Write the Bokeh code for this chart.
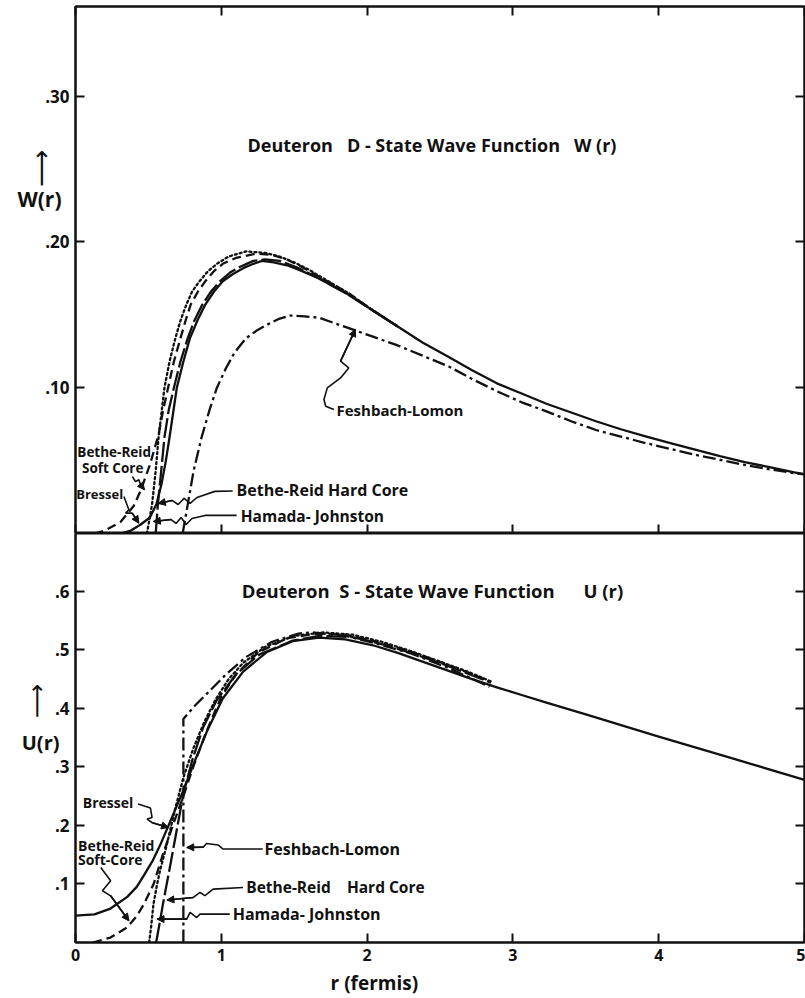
from bokeh.plotting import figure
from bokeh.models import Range1d, LinearAxis, FixedTicker, Label, Arrow, NormalHead
from bokeh.layouts import column
from bokeh.embed import file_html
from bokeh.resources import INLINE

# ---------------- data ----------------
x_ticks = [0, 1, 2, 3, 4, 5]
x_tick_labels = ["0", "1", "2", "3", "4", "5"]
w_ticks = [0.10, 0.20, 0.30]
w_tick_labels = [".10", ".20", ".30"]
u_ticks = [0.1, 0.2, 0.3, 0.4, 0.5, 0.6]
u_tick_labels = [".1", ".2", ".3", ".4", ".5", ".6"]

# D-state wave function W(r)
w_bressel_r = [0.31, 0.38, 0.445, 0.51, 0.555, 0.59, 0.62, 0.645, 0.67, 0.695, 0.74, 0.785, 0.84,
               0.89, 0.95, 1.01, 1.08, 1.15, 1.22, 1.28, 1.36, 1.45, 1.53, 1.67, 1.87, 2.04, 2.21,
               2.38, 2.56, 2.72, 2.89, 3.06, 3.23, 3.40, 3.57, 3.74, 3.91, 4.08, 4.25, 4.42, 4.59,
               4.76, 4.93, 5.0]
w_bressel = [0.0, 0.002, 0.006, 0.011, 0.02, 0.034, 0.05, 0.066, 0.083, 0.10, 0.118, 0.134, 0.147,
             0.157, 0.166, 0.173, 0.178, 0.182, 0.185, 0.187, 0.186, 0.184, 0.181, 0.175, 0.164,
             0.153, 0.142, 0.131, 0.121, 0.112, 0.103, 0.096, 0.089, 0.083, 0.077, 0.0715, 0.0666,
             0.062, 0.0575, 0.053, 0.049, 0.0455, 0.042, 0.0408]

w_softcore_r = [0.13, 0.2, 0.31, 0.40, 0.445, 0.51, 0.57, 0.60, 0.635, 0.675, 0.72, 0.755, 0.79,
                0.84, 0.89, 0.95, 1.01, 1.1, 1.24, 1.35, 1.45, 1.55, 1.67, 1.87, 2.04, 2.21]
w_softcore = [0.0, 0.002, 0.008, 0.019, 0.029, 0.047, 0.068, 0.084, 0.10, 0.118, 0.134, 0.146,
              0.157, 0.166, 0.173, 0.18, 0.185, 0.189, 0.192, 0.191, 0.188, 0.183, 0.176, 0.165,
              0.153, 0.142]

w_hamada_r = [0.49, 0.525, 0.55, 0.57, 0.59, 0.61, 0.645, 0.685, 0.72, 0.76, 0.80, 0.85, 0.91,
              0.97, 1.05, 1.17, 1.3, 1.4, 1.5, 1.6, 1.7, 1.87, 2.04, 2.21]
w_hamada = [0.0, 0.02, 0.043, 0.066, 0.083, 0.10, 0.118, 0.134, 0.146, 0.157, 0.166, 0.173, 0.18,
            0.185, 0.19, 0.1935, 0.1925, 0.19, 0.186, 0.181, 0.175, 0.165, 0.153, 0.142]

w_hardcore_r = [0.55, 0.565, 0.585, 0.61, 0.64, 0.675, 0.72, 0.77, 0.815, 0.87, 0.93, 0.99, 1.06,
                1.13, 1.22, 1.3, 1.4, 1.53, 1.67, 1.87, 2.04, 2.21]
w_hardcore = [0.0, 0.02, 0.04, 0.066, 0.085, 0.10, 0.118, 0.134, 0.146, 0.157, 0.166, 0.173, 0.179,
              0.183, 0.187, 0.188, 0.187, 0.182, 0.175, 0.164, 0.153, 0.142]

w_feshbach_r = [0.735, 0.77, 0.81, 0.865, 0.92, 0.97, 1.03, 1.09, 1.17, 1.24, 1.31, 1.39, 1.47,
                1.57, 1.67, 1.87, 2.04, 2.21, 2.38, 2.56, 2.72, 2.89, 3.06, 3.23, 3.40, 3.57,
                3.74, 3.91, 4.08, 4.25, 4.42, 4.59, 4.76, 4.93, 5.0]
w_feshbach = [0.0, 0.02, 0.043, 0.066, 0.085, 0.10, 0.113, 0.124, 0.134, 0.139, 0.143, 0.147,
              0.1495, 0.149, 0.148, 0.141, 0.135, 0.129, 0.122, 0.1146, 0.106, 0.0976, 0.09,
              0.0838, 0.077, 0.071, 0.0665, 0.062, 0.058, 0.054, 0.0505, 0.047, 0.044, 0.0414,
              0.0405]

# S-state wave function U(r)
u_bressel_r = [0.0, 0.13, 0.24, 0.355, 0.42, 0.47, 0.53, 0.58, 0.65, 0.73, 0.81, 0.90, 1.01, 1.15,
               1.31, 1.49, 1.67, 1.85, 2.04, 2.21, 2.38, 2.55, 2.72, 2.89, 3.06, 3.23, 3.5, 4.0,
               4.5, 5.0]
u_bressel = [0.046, 0.048, 0.058, 0.078, 0.095, 0.115, 0.14, 0.166, 0.207, 0.254, 0.305, 0.36,
             0.417, 0.463, 0.496, 0.515, 0.521, 0.518, 0.508, 0.495, 0.48, 0.465, 0.45, 0.436,
             0.423, 0.41, 0.39, 0.352, 0.315, 0.278]

u_softcore_r = [0.12, 0.24, 0.355, 0.42, 0.47, 0.536, 0.6, 0.67, 0.74, 0.81, 0.9, 1.0, 1.1, 1.25,
                1.45, 1.65, 1.85, 2.05, 2.3, 2.55, 2.85]
u_softcore = [0.0, 0.0085, 0.026, 0.045, 0.066, 0.10, 0.151, 0.202, 0.25, 0.302, 0.362, 0.42,
              0.458, 0.495, 0.52, 0.528, 0.526, 0.515, 0.497, 0.475, 0.446]

u_hamada_r = [0.505, 0.52, 0.535, 0.56, 0.58, 0.627, 0.68, 0.74, 0.81, 0.88, 0.96, 1.05, 1.15,
              1.3, 1.5, 1.7, 1.9, 2.1, 2.3, 2.5, 2.7, 2.85]
u_hamada = [0.0, 0.03, 0.066, 0.10, 0.123, 0.168, 0.225, 0.282, 0.333, 0.375, 0.415, 0.45, 0.478,
            0.505, 0.524, 0.53, 0.526, 0.514, 0.498, 0.48, 0.462, 0.446]

u_hardcore_r = [0.553, 0.58, 0.60, 0.65, 0.695, 0.74, 0.80, 0.876, 0.966, 1.1, 1.26, 1.49, 1.67,
                1.9, 2.1, 2.3, 2.55, 2.85]
u_hardcore = [0.0, 0.037, 0.066, 0.132, 0.193, 0.254, 0.311, 0.368, 0.413, 0.458, 0.492, 0.516,
              0.524, 0.522, 0.51, 0.495, 0.473, 0.444]

u_feshbach_r = [0.74, 0.74, 0.82, 0.90, 1.035, 1.17, 1.35, 1.53, 1.62, 1.85, 2.05, 2.3, 2.55, 2.84]
u_feshbach = [0.0, 0.382, 0.405, 0.425, 0.459, 0.488, 0.514, 0.528, 0.53, 0.524, 0.512, 0.494,
              0.47, 0.437]

# ---------------- styling ----------------
FONT = "Open Sans"
INK = "#111111"
NB = "\u00a0"
DASH = {
    "Bressel": "solid",
    "Soft Core": "9 5",
    "Hamada-Johnston": "2 3",
    "Hard Core": "20 4",
    "Feshbach-Lomon": "13 4 3 4",
}
W_MAX = 0.3615
U_MAX = 0.699


def style_axis(ax, labels, ticks, tick_labels, size="17px", standoff=6):
    ax.ticker = FixedTicker(ticks=ticks)
    ax.major_label_overrides = {t: l for t, l in zip(ticks, tick_labels)}
    ax.major_tick_in = 9
    ax.major_tick_out = 0
    ax.minor_tick_line_color = None
    ax.axis_line_width = 2
    ax.axis_line_color = INK
    ax.major_tick_line_width = 2
    ax.major_tick_line_color = INK
    ax.major_label_text_font = FONT
    ax.major_label_text_font_style = "bold"
    if labels:
        ax.major_label_text_color = INK
        ax.major_label_text_font_size = size
        ax.major_label_standoff = standoff
    else:
        ax.major_label_text_color = None
        ax.major_label_text_font_size = "1px"
        ax.major_label_standoff = 0


def caption_axis(p, side, pos, text, size, standoff, font=FONT, style="bold",
                 orientation="horizontal"):
    """An axis that carries only a caption text (no line, no tick marks)."""
    ax = LinearAxis(ticker=FixedTicker(ticks=[pos]), major_label_overrides={pos: text})
    ax.axis_line_color = None
    ax.major_tick_line_color = None
    ax.minor_tick_line_color = None
    ax.major_tick_in = 0
    ax.major_tick_out = 0
    ax.major_label_text_font = font
    ax.major_label_text_font_style = style
    ax.major_label_text_font_size = size
    ax.major_label_text_color = INK
    ax.major_label_standoff = standoff
    ax.major_label_orientation = orientation
    p.add_layout(ax, side)


def make_fig(height, ymax, top, bottom):
    p = figure(width=805, height=height, x_range=Range1d(0, 5), y_range=Range1d(0, ymax),
               output_backend="svg", toolbar_location=None, min_border_left=75,
               min_border_right=1, min_border_top=top, min_border_bottom=bottom)
    p.xgrid.visible = False
    p.ygrid.visible = False
    p.outline_line_color = INK
    p.outline_line_width = 2
    p.background_fill_color = "white"
    p.border_fill_color = "white"
    return p


def add_label(p, x, y, text, size="15px", align="left"):
    p.add_layout(Label(x=x, y=y, text=text, text_font=FONT, text_font_style="bold",
                       text_font_size=size, text_color=INK, text_align=align,
                       text_baseline="middle"))


def add_pointer(p, xs, ys):
    p.line(xs, ys, line_color=INK, line_width=1.6)
    p.add_layout(Arrow(end=NormalHead(size=7, line_color=INK, fill_color=INK, line_width=1),
                       x_start=xs[-2], y_start=ys[-2], x_end=xs[-1], y_end=ys[-1],
                       line_color=INK, line_width=1.6))


def add_curve(p, r, v, dash):
    p.line(r, v, line_color=INK, line_width=2.3, line_dash=dash,
           line_cap="round" if dash == "2 3" else "butt", line_join="round")


# ---------------- top panel: W(r) ----------------
p1 = make_fig(533, W_MAX, 6, 0)
style_axis(p1.xaxis[0], False, x_ticks, x_tick_labels)
style_axis(p1.yaxis[0], True, w_ticks, w_tick_labels)
ax_top = LinearAxis()
style_axis(ax_top, False, x_ticks, x_tick_labels)
p1.add_layout(ax_top, "above")
ax_r1 = LinearAxis()
style_axis(ax_r1, False, w_ticks, w_tick_labels)
p1.add_layout(ax_r1, "right")
caption_axis(p1, "left", 0.2296, "W(r)", "21px", -19)
caption_axis(p1, "left", 0.2505, "\u27f6", "26px", -42, font="DejaVu Sans", style="normal",
             orientation="vertical")

add_curve(p1, w_bressel_r, w_bressel, DASH["Bressel"])
add_curve(p1, w_softcore_r, w_softcore, DASH["Soft Core"])
add_curve(p1, w_hamada_r, w_hamada, DASH["Hamada-Johnston"])
add_curve(p1, w_hardcore_r, w_hardcore, DASH["Hard Core"])
add_curve(p1, w_feshbach_r, w_feshbach, DASH["Feshbach-Lomon"])

add_label(p1, 2.445, 0.2667, "Deuteron" + NB * 2 + " D - State Wave Function" + NB * 2 + " W (r)",
          size="18px", align="center")
add_label(p1, 1.79, 0.085, "Feshbach-Lomon", size="15px")
add_label(p1, 0.265, 0.0557, "Bethe-Reid", size="13.5px", align="center")
add_label(p1, 0.255, 0.0447, "Soft Core", size="13.5px", align="center")
add_label(p1, 0.005, 0.0268, "Bressel", size="13px")
add_label(p1, 1.105, 0.0296, "Bethe-Reid Hard Core", size="16px")
add_label(p1, 1.133, 0.0117, "Hamada- Johnston", size="15.5px")

add_pointer(p1, [1.772, 1.716, 1.704, 1.727, 1.818, 1.874, 1.818, 1.920],
            [0.0850, 0.0873, 0.0919, 0.0999, 0.1067, 0.1136, 0.1182, 0.1400])
add_pointer(p1, [0.390, 0.412, 0.435, 0.446, 0.473],
            [0.0390, 0.0357, 0.0369, 0.0335, 0.0300])
add_pointer(p1, [0.332, 0.366, 0.344, 0.389, 0.434],
            [0.0254, 0.0163, 0.0140, 0.0140, 0.0071])
add_pointer(p1, [1.078, 0.956, 0.833, 0.786, 0.745, 0.704, 0.663, 0.568],
            [0.0292, 0.0289, 0.0247, 0.0206, 0.0241, 0.0199, 0.0227, 0.0206])
add_pointer(p1, [1.105, 0.888, 0.799, 0.759, 0.724, 0.690, 0.656, 0.534],
            [0.0124, 0.0124, 0.0103, 0.0062, 0.0110, 0.0069, 0.0096, 0.0082])

# ---------------- bottom panel: U(r) ----------------
p2 = make_fig(465, U_MAX, 0, 56)
style_axis(p2.xaxis[0], True, x_ticks, x_tick_labels, size="16px", standoff=6)
style_axis(p2.yaxis[0], True, u_ticks, u_tick_labels)
ax_r2 = LinearAxis()
style_axis(ax_r2, False, u_ticks, u_tick_labels)
p2.add_layout(ax_r2, "right")
caption_axis(p2, "left", 0.341, "U(r)", "20px", -8)
caption_axis(p2, "left", 0.413, "\u27f6", "24px", -33, font="DejaVu Sans", style="normal",
             orientation="vertical")
caption_axis(p2, "below", 2.05, "r (fermis)", "19px", 6)

add_curve(p2, u_bressel_r, u_bressel, DASH["Bressel"])
add_curve(p2, u_softcore_r, u_softcore, DASH["Soft Core"])
add_curve(p2, u_hamada_r, u_hamada, DASH["Hamada-Johnston"])
add_curve(p2, u_hardcore_r, u_hardcore, DASH["Hard Core"])
add_curve(p2, u_feshbach_r, u_feshbach, DASH["Feshbach-Lomon"])

add_label(p2, 2.449, 0.601, "Deuteron" + NB + " S - State Wave Function" + NB * 5 + " U (r)",
          size="18.5px", align="center")
add_label(p2, 0.05, 0.239, "Bressel", size="14px")
add_label(p2, 0.017, 0.165, "Bethe-Reid", size="14px")
add_label(p2, 0.017, 0.1426, "Soft-Core", size="14px")
add_label(p2, 1.296, 0.160, "Feshbach-Lomon", size="16px")
add_label(p2, 1.171, 0.094, "Bethe-Reid" + NB * 3 + " Hard Core", size="15.5px")
add_label(p2, 1.078, 0.049, "Hamada- Johnston", size="16px")

add_pointer(p2, [0.429, 0.514, 0.525, 0.491, 0.527, 0.638],
            [0.2366, 0.2297, 0.2137, 0.2109, 0.2047, 0.1966])
add_pointer(p2, [0.173, 0.241, 0.185, 0.241, 0.366],
            [0.1282, 0.1055, 0.0884, 0.0798, 0.0371])
add_pointer(p2, [1.284, 1.012, 0.978, 0.899, 0.876, 0.763],
            [0.1597, 0.1597, 0.1667, 0.1692, 0.1630, 0.1624])
add_pointer(p2, [1.149, 0.944, 0.888, 0.854, 0.808, 0.627],
            [0.0940, 0.0912, 0.0800, 0.0855, 0.0770, 0.0725])
add_pointer(p2, [1.058, 0.854, 0.831, 0.786, 0.763, 0.559],
            [0.0485, 0.0485, 0.0427, 0.0513, 0.0400, 0.0400])

layout = column(p1, p2, spacing=0)
open("out.html", "w").write(file_html(layout, INLINE))
